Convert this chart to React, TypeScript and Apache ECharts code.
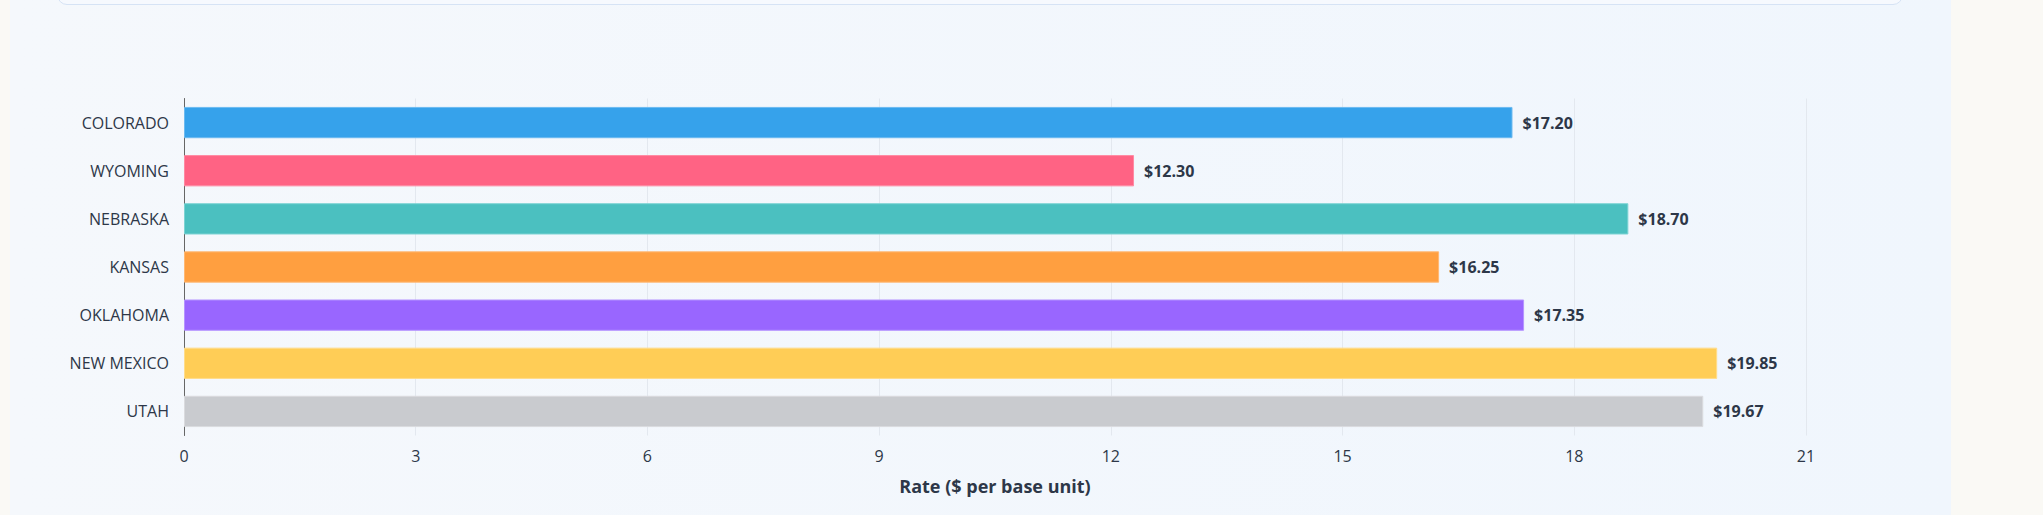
import React, { useEffect, useRef } from "react";
import * as echarts from "echarts";

const categories = ["COLORADO", "WYOMING", "NEBRASKA", "KANSAS", "OKLAHOMA", "NEW MEXICO", "UTAH"];
const rates = [17.2, 12.3, 18.7, 16.25, 17.35, 19.85, 19.67];
const barColors = ["#36A2EB", "#FF6384", "#4BC0C0", "#FF9F40", "#9966FF", "#FFCD56", "#C9CBCF"];
const borderColors = ["#6cbaf0", "#ff8aa3", "#7dd3d3", "#ffb873", "#b594ff", "#ffdc8a", "#dadbde"];
const xTicks = { min: 0, max: 21, interval: 3 };
const axisTitle = "Rate ($ per base unit)";

const FONT = "'Open Sans', 'Noto Sans', sans-serif";
const TEXT = "#2d3748";

export default function App() {
  const ref = useRef<HTMLDivElement>(null);
  useEffect(() => {
    if (!ref.current) return;
    const chart = echarts.init(ref.current, undefined, { renderer: "svg" });
    chart.setOption({
      animation: false,
      backgroundColor: "transparent",
      textStyle: { fontFamily: FONT },
      grid: { left: 184, right: 237, top: 98.5, bottom: 79.5, containLabel: false },
      xAxis: {
        type: "value",
        min: xTicks.min,
        max: xTicks.max,
        interval: xTicks.interval,
        axisLine: { show: false },
        axisTick: { show: false },
        splitLine: { show: true, lineStyle: { color: "#e3e8ef", width: 1 } },
        axisLabel: { color: TEXT, fontSize: 16, margin: 12, fontFamily: FONT },
        name: axisTitle,
        nameLocation: "middle",
        nameGap: 41,
        nameTextStyle: { color: TEXT, fontSize: 18, fontWeight: "bold", fontFamily: FONT },
      },
      yAxis: {
        type: "category",
        data: categories,
        inverse: true,
        axisLine: { show: true, lineStyle: { color: "#666666", width: 1 } },
        axisTick: { show: false },
        splitLine: { show: false },
        axisLabel: { color: TEXT, fontSize: 16, margin: 15, fontFamily: FONT },
      },
      series: [
        {
          type: "bar",
          barCategoryGap: "35%",
          data: rates.map((v, i) => ({
            value: v,
            itemStyle: { color: barColors[i], borderColor: borderColors[i], borderWidth: 1 },
          })),
          label: {
            show: true,
            position: "right",
            distance: 10,
            color: TEXT,
            fontSize: 16,
            fontWeight: "bold",
            fontFamily: FONT,
            formatter: (p: any) => "$" + Number(p.value).toFixed(2),
          },
        },
      ],
    });
    return () => chart.dispose();
  }, []);

  return (
    <div style={{ position: "absolute", left: 0, top: 0, width: 2043, height: 515, background: "#faf9f5", overflow: "hidden" }}>
      <div
        style={{
          position: "absolute",
          left: 10,
          top: 0,
          width: 1941,
          height: 515,
          background: "linear-gradient(90deg, #f5f8fc 0%, #f0f6fd 100%)",
        }}
      />
      <div
        style={{
          position: "absolute",
          left: 57,
          top: -20,
          width: 1846,
          height: 25,
          boxSizing: "border-box",
          border: "1px solid #d6e3f5",
          borderRadius: 10,
          background: "#f6f9fe",
        }}
      />
      <div ref={ref} style={{ position: "absolute", left: 0, top: 0, width: 2043, height: 515 }} />
    </div>
  );
}
